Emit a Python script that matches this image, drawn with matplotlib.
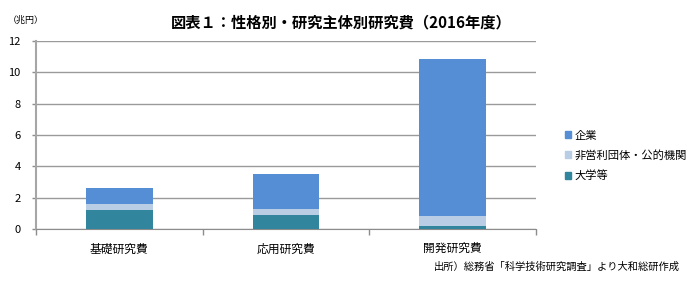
import matplotlib
matplotlib.use("Agg")
import matplotlib.pyplot as plt
import numpy as np
from matplotlib.patches import Patch

plt.rcParams['font.family'] = ['Noto Sans CJK JP', 'DejaVu Sans']

categories = ['基礎研究費', '応用研究費', '開発研究費']
series_names = ['大学等', '非営利団体・公的機関', '企業']
univ = [1.21, 0.90, 0.21]
nonprofit = [0.41, 0.40, 0.64]
company = [1.02, 2.22, 10.02]
colors = ['#31859C', '#B9CDE5', '#558ED5']
yticks = [0, 2, 4, 6, 8, 10, 12]

fig = plt.figure(figsize=(7.0, 2.91), dpi=100)
ax = fig.add_axes([36/700, 1-229/291, 500/700, 188/291])

x = np.arange(len(categories))
bottom = np.zeros(len(categories))
for vals, c in zip([univ, nonprofit, company], colors):
    ax.bar(x, vals, width=0.4, bottom=bottom, color=c, zorder=3)
    bottom += np.array(vals)

ax.set_xlim(-0.5, 2.5)
ax.set_ylim(0, 12)
ax.set_yticks(yticks)
ax.set_yticklabels([str(t) for t in yticks], fontsize=8)
ax.yaxis.grid(True, color='#9a9a9a', linewidth=1, zorder=0)
ax.set_axisbelow(True)

ax.set_xticks([-0.5, 0.5, 1.5, 2.5])
ax.set_xticklabels([])
ax.tick_params(axis='x', length=4, color='#8c8c8c', width=1)
ax.tick_params(axis='y', length=3, color='#8c8c8c', width=1, pad=8)
for i, lab in enumerate(categories):
    ax.text(i, -0.85, lab, ha='center', va='top', fontsize=8.5)

for s in ['top', 'right']:
    ax.spines[s].set_visible(False)
ax.spines['left'].set_color('#a6a6a6')
ax.spines['left'].set_linewidth(1.5)
ax.spines['bottom'].set_color('#8c8c8c')

fig.text(341/700, 1-22/291, '図表１：性格別・研究主体別研究費（2016年度）',
         ha='center', va='center', fontsize=11, fontweight='bold')
fig.text(8/700, 1-20/291, '（兆円）', ha='left', va='center', fontsize=6.5)
fig.text(680/700, 1-267/291, '出所）総務省「科学技術研究調査」より大和総研作成',
         ha='right', va='center', fontsize=7.4)

handles = [Patch(color=colors[2]), Patch(color=colors[1]), Patch(color=colors[0])]
labels = ['企業', '非営利団体・公的機関', '大学等']
fig.legend(handles, labels, loc='upper left', bbox_to_anchor=(560/700, 1-126/291),
           frameon=False, fontsize=8.1, handlelength=0.6, handleheight=0.6,
           handletextpad=0.3, labelspacing=0.85, borderaxespad=0)

fig.savefig('out.png', dpi=100)
